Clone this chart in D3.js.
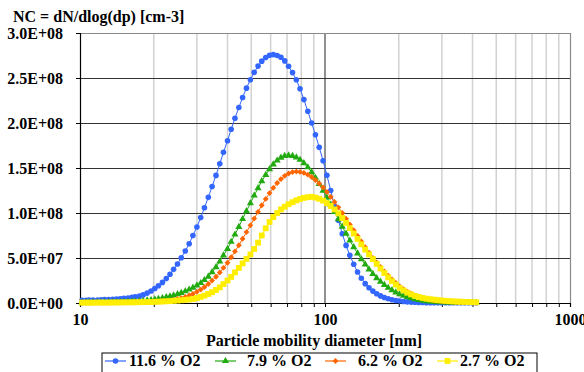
<!DOCTYPE html>
<html><head><meta charset="utf-8">
<script src="https://cdn.jsdelivr.net/npm/d3@7"></script>
</head><body style="margin:0">
<svg id="c" width="584" height="372" style="display:block"></svg>
<script>
// Particle mobility diameter [nm]
const diameters = [10.2,10.6,10.9,11.3,11.8,12.2,12.6,13.1,13.6,14.1,
14.6,15.1,15.7,16.3,16.8,17.5,18.1,18.8,19.5,20.2,
20.9,21.7,22.5,23.3,24.1,25.0,25.9,26.9,27.9,28.9,
30.0,31.1,32.2,33.4,34.6,35.9,37.2,38.5,40.0,41.4,
42.9,44.5,46.1,47.8,49.6,51.4,53.3,55.2,57.3,59.4,
61.5,63.8,66.1,68.5,71.0,73.7,76.4,79.1,82.0,85.1,
88.2,91.4,94.7,98.2,101.8,105.5,109.4,113.4,117.6,121.9,
126.3,131.0,135.8,140.7,145.9,151.2,156.8,162.5,168.5,174.7,
181.1,187.7,194.6,201.7,209.1,216.7,224.7,232.9,241.4,250.3,
259.5,269.0,278.8,289.0,299.6,310.6,322.0,333.8,346.0,358.7,
371.8,385.4,399.5,414.2];

// dN/dlog(dp) values in units of 1e8 cm-3
const UNIT = 1e8;
const o2_116 = [0.030,0.031,0.032,0.033,0.034,0.035,0.037,0.039,0.041,0.044,
0.047,0.051,0.056,0.062,0.068,0.076,0.090,0.110,0.133,0.161,
0.192,0.229,0.271,0.319,0.374,0.434,0.502,0.577,0.659,0.749,
0.845,0.949,1.058,1.174,1.294,1.418,1.546,1.674,1.803,1.930,
2.053,2.172,2.284,2.387,2.481,2.563,2.632,2.687,2.728,2.752,
2.760,2.750,2.730,2.690,2.630,2.560,2.480,2.380,2.260,2.130,
2.000,1.870,1.730,1.580,1.420,1.250,1.080,0.920,0.770,0.640,
0.530,0.430,0.345,0.275,0.215,0.170,0.132,0.102,0.079,0.061,
0.047,0.036,0.028,0.022,0.017,0.013,0.010,0.008,0.006,0.005,
0.004,0.004,0.003,0.003,0.003,0.002,0.002,0.002,0.002,0.002,
0.002,0.002,0.002,0.002];
const o2_79 = [0.005,0.006,0.006,0.006,0.007,0.007,0.008,0.008,0.009,0.010,
0.011,0.012,0.014,0.016,0.018,0.021,0.024,0.028,0.033,0.040,
0.047,0.055,0.064,0.074,0.085,0.098,0.113,0.130,0.150,0.170,
0.195,0.222,0.255,0.292,0.343,0.399,0.461,0.529,0.602,0.680,
0.761,0.846,0.933,1.021,1.109,1.194,1.276,1.354,1.424,1.487,
1.540,1.583,1.615,1.634,1.640,1.634,1.618,1.591,1.554,1.508,
1.453,1.391,1.323,1.249,1.172,1.092,1.011,0.930,0.849,0.770,
0.694,0.621,0.552,0.488,0.428,0.373,0.323,0.277,0.237,0.201,
0.169,0.142,0.118,0.097,0.080,0.065,0.053,0.042,0.034,0.027,
0.021,0.017,0.013,0.010,0.008,0.006,0.005,0.004,0.003,0.003,
0.002,0.002,0.002,0.002];
const o2_62 = [0.003,0.003,0.003,0.004,0.004,0.004,0.004,0.005,0.005,0.005,
0.006,0.006,0.007,0.007,0.008,0.009,0.010,0.011,0.012,0.014,
0.016,0.019,0.023,0.028,0.035,0.044,0.055,0.068,0.083,0.102,
0.124,0.149,0.178,0.211,0.249,0.292,0.339,0.391,0.447,0.508,
0.573,0.642,0.714,0.788,0.863,0.938,1.013,1.086,1.156,1.221,
1.280,1.333,1.377,1.413,1.439,1.455,1.460,1.456,1.445,1.426,
1.400,1.367,1.328,1.284,1.234,1.180,1.123,1.063,1.000,0.937,
0.873,0.809,0.745,0.684,0.620,0.560,0.500,0.450,0.400,0.350,
0.305,0.262,0.222,0.185,0.153,0.126,0.103,0.084,0.068,0.055,
0.044,0.035,0.028,0.022,0.018,0.015,0.012,0.010,0.009,0.008,
0.007,0.006,0.005,0.005];
const o2_27 = [0.004,0.004,0.004,0.004,0.005,0.005,0.005,0.005,0.006,0.006,
0.006,0.007,0.007,0.008,0.008,0.009,0.010,0.011,0.012,0.013,
0.015,0.017,0.019,0.021,0.024,0.027,0.031,0.035,0.039,0.044,
0.055,0.068,0.082,0.100,0.120,0.145,0.174,0.210,0.250,0.290,
0.340,0.390,0.440,0.490,0.540,0.600,0.670,0.750,0.830,0.900,
0.955,1.000,1.040,1.070,1.098,1.120,1.140,1.155,1.168,1.176,
1.180,1.172,1.158,1.138,1.110,1.078,1.040,0.995,0.945,0.890,
0.832,0.772,0.712,0.652,0.594,0.540,0.488,0.435,0.383,0.333,
0.285,0.243,0.204,0.168,0.140,0.115,0.095,0.078,0.066,0.056,
0.048,0.042,0.037,0.032,0.028,0.024,0.021,0.018,0.016,0.014,
0.012,0.010,0.009,0.008];

const seriesNames = ["11.6 % O2","7.9 % O2","6.2 % O2","2.7 % O2"];
const seriesValues = [o2_116, o2_79, o2_62, o2_27];
const seriesColors = ["#3366ff","#22aa11","#ff6600","#ffee00"];

const yTickValues = [0,0.5e8,1.0e8,1.5e8,2.0e8,2.5e8,3.0e8];
const yTickLabels = ["0.0E+00","5.0E+07","1.0E+08","1.5E+08","2.0E+08","2.5E+08","3.0E+08"];
const xMajorTicks = [10,100,1000];
const xMinorTicks = [20,30,40,50,60,70,80,90,200,300,400,500,600,700,800,900];

const title = "NC = dN/dlog(dp) [cm-3]";
const xTitle = "Particle mobility diameter [nm]";

function styleText(sel, size){
  return sel.style("font-family","'Liberation Serif'").style("font-weight","bold")
    .style("font-size",size+"px").style("fill","#000");
}

// ---- layout ----
const L = 80, R = 570, T = 33, B = 303;
const svg = d3.select("#c");
const x = d3.scaleLog().domain([10,1000]).range([L,R]);
const y = d3.scaleLinear().domain([0,3e8]).range([B,T]);

// minor vertical gridlines
svg.append("g").selectAll("line").data(xMinorTicks).join("line")
  .attr("x1",d=>x(d)).attr("x2",d=>x(d)).attr("y1",T).attr("y2",B)
  .attr("stroke","#d2d2d2").attr("stroke-width",1.5);
// major vertical gridline
svg.append("line").attr("x1",x(100)).attr("x2",x(100)).attr("y1",T).attr("y2",B)
  .attr("stroke","#222").attr("stroke-width",1);
// horizontal gridlines
svg.append("g").selectAll("line").data(yTickValues.filter(v=>v>0 && v<3e8)).join("line")
  .attr("x1",L).attr("x2",R).attr("y1",d=>Math.round(y(d))+0.5).attr("y2",d=>Math.round(y(d))+0.5)
  .attr("stroke","#333").attr("stroke-width",1);
// top and right border
svg.append("path").attr("d",`M${L},${T+0.5}H${R+0.5}V${B}`).attr("fill","none")
  .attr("stroke","#8a8a8a").attr("stroke-width",1.2);

// axes
const yAxis = d3.axisLeft(y).tickValues(yTickValues).tickSize(4).tickPadding(14)
  .tickFormat((d,i)=>yTickLabels[i]);
const gy = svg.append("g").attr("transform",`translate(${L},0)`).call(yAxis)
  .attr("font-family",null).attr("font-size",null);
gy.select(".domain").attr("stroke","#000").attr("stroke-width",1.2);
gy.selectAll(".tick line").attr("stroke","#000");
styleText(gy.selectAll(".tick text"),16).attr("x",-17).attr("dy","0.32em");

const xAxis = d3.axisBottom(x).tickValues(xMajorTicks.concat(xMinorTicks)).tickSize(4).tickPadding(7)
  .tickFormat(d=> xMajorTicks.includes(d) ? String(d) : "");
const gx = svg.append("g").attr("transform",`translate(0,${B})`).call(xAxis)
  .attr("font-family",null).attr("font-size",null);
gx.select(".domain").attr("stroke","#000").attr("stroke-width",1.2);
gx.selectAll(".tick line").attr("stroke","#000");
styleText(gx.selectAll(".tick text"),16);

// titles
styleText(svg.append("text").attr("x",13).attr("y",21.5),16).text(title);
styleText(svg.append("text").attr("x",314).attr("y",345.5).attr("text-anchor","middle"),16).text(xTitle);

// symbol makers
function marker(sel, i, cx, cy){
  const c = seriesColors[i];
  if(i===0){
    sel.append("circle").attr("cx",cx).attr("cy",cy).attr("r",2.8).attr("fill",c);
  } else if(i===1){
    sel.append("path").attr("transform",`translate(${cx},${cy})`)
      .attr("d",d3.symbol().type(d3.symbolTriangle).size(22)()).attr("fill",c);
  } else if(i===2){
    sel.append("path").attr("transform",`translate(${cx},${cy}) rotate(45)`)
      .attr("d",d3.symbol().type(d3.symbolSquare).size(17)()).attr("fill",c);
  } else {
    sel.append("path").attr("transform",`translate(${cx},${cy})`)
      .attr("d",d3.symbol().type(d3.symbolSquare).size(34)()).attr("fill",c);
  }
}

const line = d3.line().x(d=>x(d[0])).y(d=>y(d[1]*UNIT));
seriesValues.forEach((vals,i)=>{
  const pts = diameters.map((d,k)=>[d,vals[k]]);
  const g = svg.append("g");
  g.append("path").attr("d",line(pts)).attr("fill","none")
    .attr("stroke",seriesColors[i]).attr("stroke-width",1);
  pts.forEach(p=>marker(g,i,x(p[0]),y(p[1]*UNIT)));
});

// legend
const lg = svg.append("g");
lg.append("rect").attr("x",102).attr("y",353).attr("width",435).attr("height",30)
  .attr("fill","#fff").attr("stroke","#000").attr("stroke-width",1);
const legLineX = [105,215,325,437];
const legTextX = [129,247,358,460];
seriesNames.forEach((n,i)=>{
  lg.append("line").attr("x1",legLineX[i]).attr("x2",legLineX[i]+21).attr("y1",361).attr("y2",361)
    .attr("stroke",seriesColors[i]).attr("stroke-width",1.2);
  marker(lg,i,legLineX[i]+10.5,361);
  styleText(lg.append("text").attr("x",legTextX[i]).attr("y",366),16).text(n);
});
</script>
</body></html>
